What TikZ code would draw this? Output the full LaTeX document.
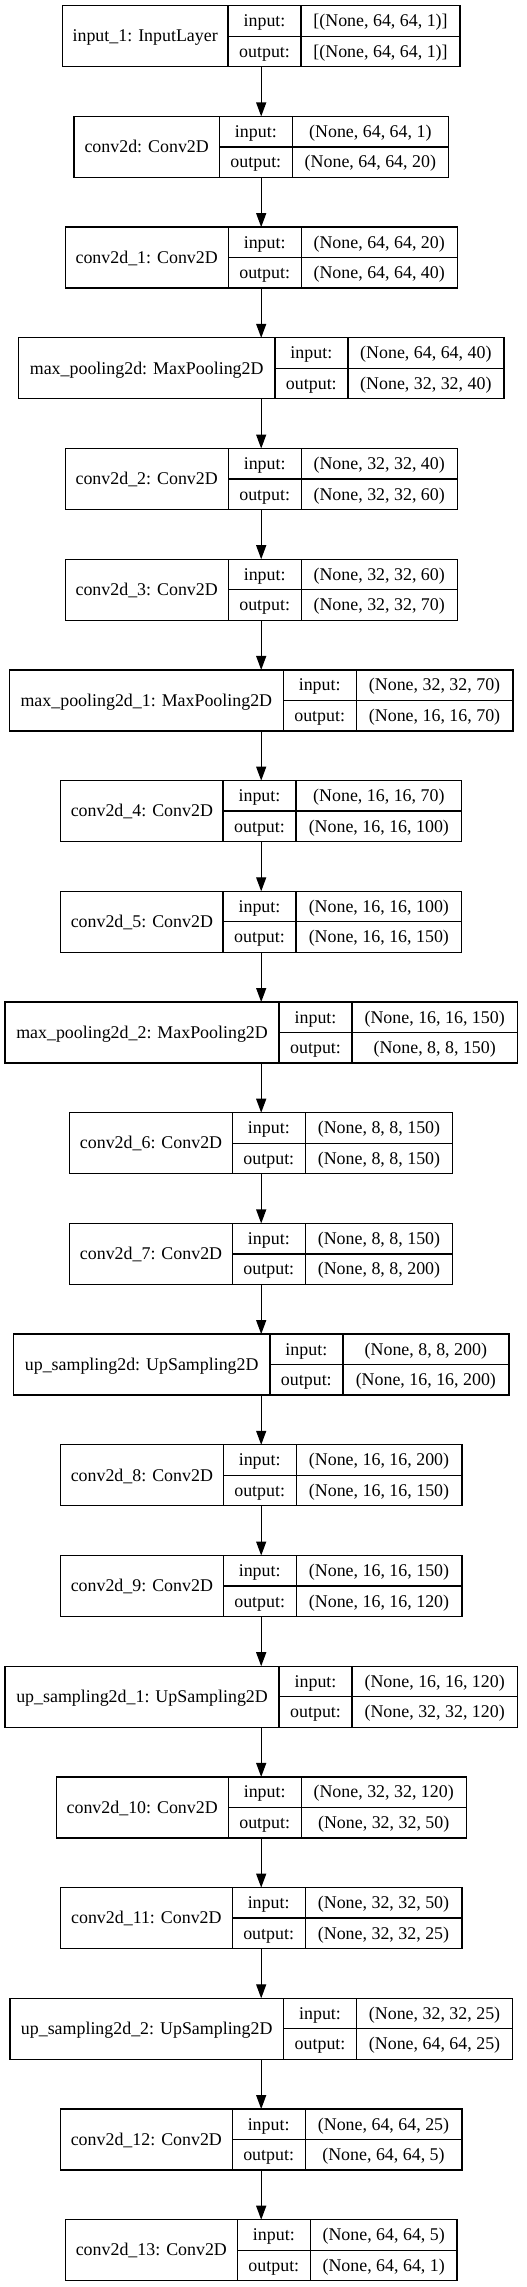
\documentclass[tikz,border=0pt]{standalone}
\usepackage{fontspec}
\setmainfont{Liberation Serif}
\usetikzlibrary{arrows.meta,positioning}

% one layer: id, row, name width, value width, name, input, output
\newcommand{\layer}[7]{%
  \pgfmathsetmacro{\boxw}{#3+73+#4}
  \node[layerbox, minimum width=\boxw pt] (b#1) at (261.2, 36.2+110.7*#2) {};
  \node[namecell, minimum width=#3pt, right=0pt of b#1.west] (n#1) {#5};
  \node[keycell, below right=0pt and 0pt of n#1.north east] (ki#1) {input:};
  \node[keycell, below=0pt of ki#1] (ko#1) {output:};
  \node[valcell, minimum width=#4pt, right=0pt of ki#1] (vi#1) {#6};
  \node[valcell, minimum width=#4pt, right=0pt of ko#1] (vo#1) {#7};
}

\begin{document}
\begin{tikzpicture}[x=1pt, y=-1pt,
    font=\fontsize{17.9}{20}\selectfont,
    layerbox/.style={draw, line width=1.3pt, rectangle, minimum height=61pt, inner sep=0pt, outer sep=0pt},
    namecell/.style={layerbox, text height=11.5pt, text depth=0pt},
    keycell/.style={namecell, minimum height=30.5pt, minimum width=73pt},
    valcell/.style={namecell, minimum height=30.5pt},
    >={Triangle[length=14pt, width=10pt]}]

    \useasboundingbox (0,0) rectangle (527,2287);

    \layer{1}{0}{165.7}{159}{input\_1: InputLayer}{[(None, 64, 64, 1)]}{[(None, 64, 64, 1)]}
    \layer{2}{1}{145.3}{156}{conv2d: Conv2D}{(None, 64, 64, 1)}{(None, 64, 64, 20)}
    \layer{3}{2}{163}{156}{conv2d\_1: Conv2D}{(None, 64, 64, 20)}{(None, 64, 64, 40)}
    \layer{4}{3}{256.3}{156}{max\_pooling2d: MaxPooling2D}{(None, 64, 64, 40)}{(None, 32, 32, 40)}
    \layer{5}{4}{163}{156}{conv2d\_2: Conv2D}{(None, 32, 32, 40)}{(None, 32, 32, 60)}
    \layer{6}{5}{163}{156}{conv2d\_3: Conv2D}{(None, 32, 32, 60)}{(None, 32, 32, 70)}
    \layer{7}{6}{273.7}{156.7}{max\_pooling2d\_1: MaxPooling2D}{(None, 32, 32, 70)}{(None, 16, 16, 70)}
    \layer{8}{7}{162.3}{165.7}{conv2d\_4: Conv2D}{(None, 16, 16, 70)}{(None, 16, 16, 100)}
    \layer{9}{8}{162.3}{165.7}{conv2d\_5: Conv2D}{(None, 16, 16, 100)}{(None, 16, 16, 150)}
    \layer{10}{9}{274}{165.3}{max\_pooling2d\_2: MaxPooling2D}{(None, 16, 16, 150)}{(None, 8, 8, 150)}
    \layer{11}{10}{162.6}{147.3}{conv2d\_6: Conv2D}{(None, 8, 8, 150)}{(None, 8, 8, 150)}
    \layer{12}{11}{162.6}{147.3}{conv2d\_7: Conv2D}{(None, 8, 8, 150)}{(None, 8, 8, 200)}
    \layer{13}{12}{256.3}{166}{up\_sampling2d: UpSampling2D}{(None, 8, 8, 200)}{(None, 16, 16, 200)}
    \layer{14}{13}{162.7}{165.7}{conv2d\_8: Conv2D}{(None, 16, 16, 200)}{(None, 16, 16, 150)}
    \layer{15}{14}{162.7}{165.7}{conv2d\_9: Conv2D}{(None, 16, 16, 150)}{(None, 16, 16, 120)}
    \layer{16}{15}{274}{165.3}{up\_sampling2d\_1: UpSampling2D}{(None, 16, 16, 120)}{(None, 32, 32, 120)}
    \layer{17}{16}{172}{165}{conv2d\_10: Conv2D}{(None, 32, 32, 120)}{(None, 32, 32, 50)}
    \layer{18}{17}{171.6}{156.7}{conv2d\_11: Conv2D}{(None, 32, 32, 50)}{(None, 32, 32, 25)}
    \layer{19}{18}{273.7}{156}{up\_sampling2d\_2: UpSampling2D}{(None, 32, 32, 25)}{(None, 64, 64, 25)}
    \layer{20}{19}{171.6}{156.7}{conv2d\_12: Conv2D}{(None, 64, 64, 25)}{(None, 64, 64, 5)}
    \layer{21}{20}{172}{146.7}{conv2d\_13: Conv2D}{(None, 64, 64, 5)}{(None, 64, 64, 1)}

    % connections
    \foreach \a [count=\b from 2] in {1,...,20}
        \draw[->, line width=1.3pt] (b\a) -- (b\b);
\end{tikzpicture}
\end{document}
